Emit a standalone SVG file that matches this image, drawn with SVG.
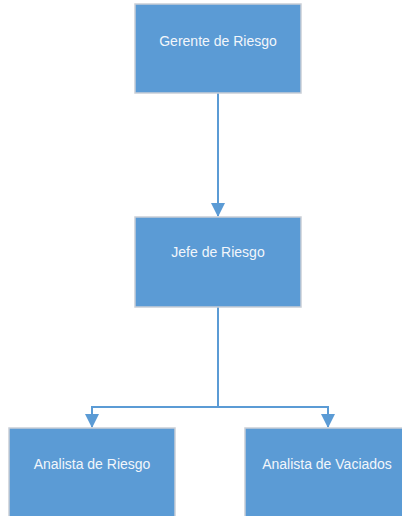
<svg xmlns="http://www.w3.org/2000/svg" width="402" height="516" viewBox="0 0 402 516">
<style>
.box{fill:#5B9BD5;stroke:#C9CED6;stroke-width:1.5}
.lbl{fill:#F2F6FB;font-family:"Liberation Sans",Arial,sans-serif;font-size:14px;text-anchor:middle}
.con{fill:none;stroke:#5B9BD5;stroke-width:2}
</style>
<defs>
<marker id="ah" markerWidth="14" markerHeight="14" refX="13" refY="7" orient="auto" markerUnits="userSpaceOnUse">
<path d="M0,0 L14,7 L0,14 Z" fill="#5B9BD5"/>
</marker>
</defs>
<rect width="402" height="516" fill="#FFFFFF"/>
<g id="connectors">
<path class="con" d="M218,93 V216" marker-end="url(#ah)"/>
<path class="con" d="M218,307 V407 H92 V427" marker-end="url(#ah)"/>
<path class="con" d="M218,407 H328 V427" marker-end="url(#ah)"/>
</g>
<g id="gerente">
<rect class="box" x="135" y="4" width="166" height="89"/>
<text class="lbl" x="218" y="46">Gerente de Riesgo</text>
</g>
<g id="jefe">
<rect class="box" x="135" y="217" width="166" height="90"/>
<text class="lbl" x="218" y="257">Jefe de Riesgo</text>
</g>
<g id="analista-riesgo">
<rect class="box" x="9" y="428" width="166" height="100"/>
<text class="lbl" x="92" y="469">Analista de Riesgo</text>
</g>
<g id="analista-vaciados">
<rect class="box" x="245" y="428" width="166" height="100"/>
<text class="lbl" x="327" y="469">Analista de Vaciados</text>
</g>
</svg>
